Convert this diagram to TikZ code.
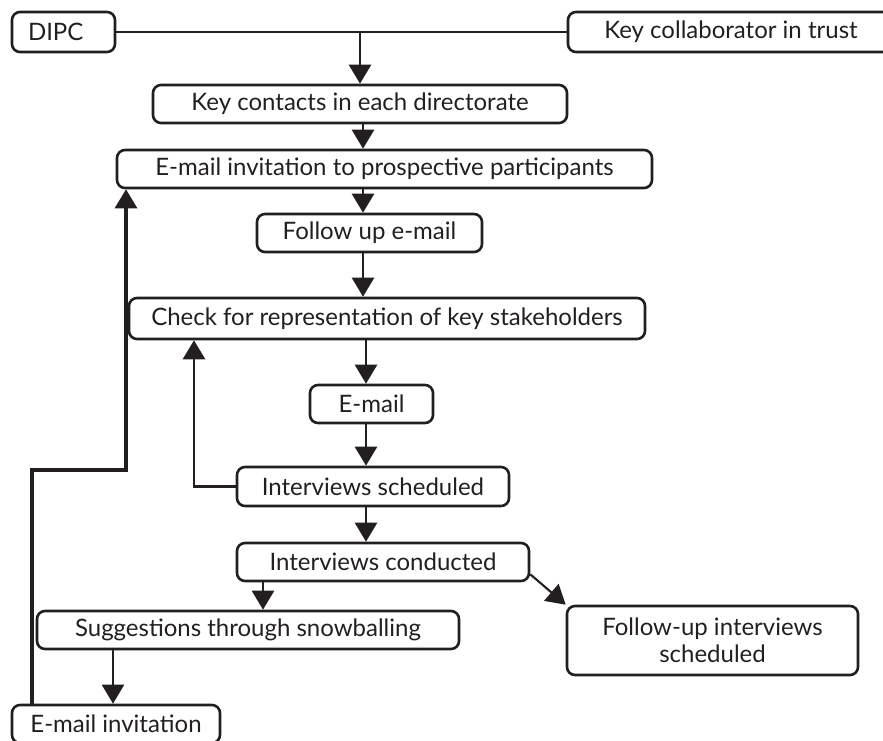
\documentclass[tikz,border=0pt]{standalone}
\usepackage{fontspec}
\setmainfont{Lato}
\usetikzlibrary{arrows.meta,calc}
\definecolor{ink}{HTML}{231F20}
\begin{document}
\begin{tikzpicture}[x=1pt,y=-1pt,
  box/.style={draw=ink,line width=2.6pt,rounded corners=8pt,text=ink,
    inner sep=0pt,font=\fontsize{24}{27}\selectfont,align=center},
  link/.style={draw=ink,line width=2.6pt},
  arr/.style={link,-{Triangle[width=22pt,length=19pt]}}]
\useasboundingbox (0,0) rectangle (883,740);
\clip (0,0) rectangle (883,740);

% boxes: centre, width, height
\node[box,minimum width=103pt,minimum height=40pt,text width=71pt,align=left,inner xsep=16pt]
  (dipc) at (63.5,32) {DIPC};
\node[box,minimum width=326pt,minimum height=40pt] (collab) at (731,32) {Key collaborator in trust};
\node[box,minimum width=414pt,minimum height=38pt] (contacts) at (360,104) {Key contacts in each directorate};
\node[box,minimum width=535pt,minimum height=38pt] (invite) at (384.5,169) {E-mail invitation to prospective participants};
\node[box,minimum width=225pt,minimum height=38pt] (followup) at (369.5,233) {Follow up e-mail};
\node[box,minimum width=516pt,minimum height=41pt] (check) at (387,318.5) {Check for representation of key stakeholders};
\node[box,minimum width=123pt,minimum height=38pt] (email) at (371.5,404) {E-mail};
\node[box,minimum width=272pt,minimum height=39pt] (sched) at (373,486.5) {Interviews scheduled};
\node[box,minimum width=292pt,minimum height=38pt] (conducted) at (383,562) {Interviews conducted};
\node[box,minimum width=422pt,minimum height=38pt] (snow) at (248,630) {Suggestions through snowballing};
\node[box,minimum width=291pt,minimum height=69pt] (fuis) at (712.5,640.5) {Follow-up interviews\\scheduled};
\node[box,minimum width=208pt,minimum height=38pt] (einv) at (116,724) {E-mail invitation};

% vertical guide lines for the main column
\coordinate (j) at (360,32);
\coordinate (c1) at (363,0);
\coordinate (c2) at (366,0);
\coordinate (c3) at (263,0);
\coordinate (c4) at (113,0);
\coordinate (back1) at (194,486.5);
\coordinate (back2a) at (32,470);
\coordinate (back2b) at (126,470);

% top bar and main flow
\draw[link,line width=2pt] (dipc.east) -- (collab.west);
\draw[arr] (j) -- (j |- contacts.north);
\draw[arr] (contacts.south -| c1) -- (invite.north -| c1);
\draw[arr] (invite.south -| c1) -- (followup.north -| c1);
\draw[arr] (followup.south -| c1) -- (check.north -| c1);
\draw[arr] (check.south -| c2) -- (email.north -| c2);
\draw[arr] (email.south -| c2) -- (sched.north -| c2);
\draw[arr] (sched.south -| c2) -- (conducted.north -| c2);
\draw[arr] (conducted.south -| c3) -- (snow.north -| c3);
\draw[arr,line width=2.1pt] ([yshift=8pt]conducted.south east) -- (fuis.north west);
\draw[arr,line width=2.1pt] (snow.south -| c4) -- (einv.north -| c4);

% feedback loops
\draw[arr] (sched.west) -- (back1) -- (back1 |- check.south);
\draw[arr,line width=3.2pt] (einv.north -| back2a) -- (back2a) -- (back2b) -- (back2b |- invite.south);
\end{tikzpicture}
\end{document}
